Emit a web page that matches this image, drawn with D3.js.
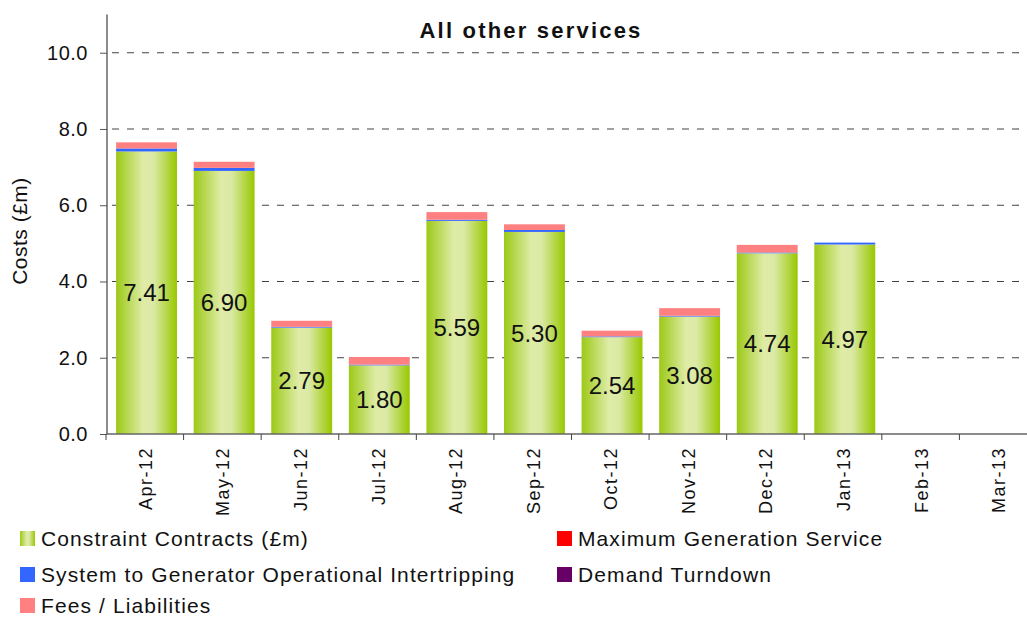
<!DOCTYPE html>
<html>
<head>
<meta charset="utf-8">
<script src="https://cdn.jsdelivr.net/npm/d3@7"></script>
<style>
  body { margin: 0; background: #fff; }
  svg { display: block; font-family: "Liberation Sans", Arial, sans-serif; }
</style>
</head>
<body>
<div id="chart"></div>
<script>
// data
const months = ["Apr-12","May-12","Jun-12","Jul-12","Aug-12","Sep-12","Oct-12","Nov-12","Dec-12","Jan-13","Feb-13","Mar-13"];
const constraint = [7.41, 6.90, 2.79, 1.80, 5.59, 5.30, 2.54, 3.08, 4.74, 4.97, 0, 0];
const maxGen     = [0, 0, 0, 0, 0, 0, 0, 0, 0, 0, 0, 0];
const intertrip  = [0.08, 0.08, 0.02, 0.02, 0.03, 0.05, 0.02, 0.02, 0.02, 0.05, 0, 0];
const demand     = [0, 0, 0, 0, 0, 0, 0, 0, 0, 0, 0, 0];
const fees       = [0.16, 0.16, 0.16, 0.20, 0.20, 0.15, 0.15, 0.20, 0.20, 0, 0, 0];
const yTicks = [0, 2, 4, 6, 8, 10];

const series = [
  { key: "constraint", name: "Constraint Contracts (£m)", values: constraint, color: "url(#greenGrad)" },
  { key: "maxGen", name: "Maximum Generation Service", values: maxGen, color: "#ff0000" },
  { key: "intertrip", name: "System to Generator Operational Intertripping", values: intertrip, color: "#3366ff" },
  { key: "demand", name: "Demand Turndown", values: demand, color: "#660066" },
  { key: "fees", name: "Fees / Liabilities", values: fees, color: "#ff8080" }
];

const W = 1027, H = 617;
const svg = d3.select("#chart").append("svg").attr("width", W).attr("height", H);

const defs = svg.append("defs");
const grad = defs.append("linearGradient").attr("id", "greenGrad")
  .attr("x1", "0%").attr("x2", "100%").attr("y1", "0%").attr("y2", "0%");
grad.append("stop").attr("offset", "0%").attr("stop-color", "#9cc916");
grad.append("stop").attr("offset", "45%").attr("stop-color", "#dfeca8");
grad.append("stop").attr("offset", "62%").attr("stop-color", "#dae9a4");
grad.append("stop").attr("offset", "100%").attr("stop-color", "#98c800");

const x = d3.scaleBand().domain(months).range([106, 1037]).padding(0);
const y = d3.scaleLinear().domain([0, 11]).range([434, 14.6]);
const bw = x.bandwidth();

// gridlines
svg.append("g").selectAll("line").data(yTicks.filter(d => d > 0)).enter().append("line")
  .attr("x1", 112).attr("x2", 1022)
  .attr("y1", d => y(d)).attr("y2", d => y(d))
  .attr("stroke", "#444").attr("stroke-width", 1.1).attr("stroke-dasharray", "7,8");

// stacked bars
const rows = months.map((m, i) => {
  const r = { month: m };
  series.forEach(s => r[s.key] = s.values[i]);
  return r;
});
const stack = d3.stack().keys(series.map(s => s.key));
const stacked = stack(rows);

const gBars = svg.append("g");
stacked.forEach((layer, li) => {
  gBars.selectAll(null).data(layer.filter(d => d[1] - d[0] > 0)).enter().append("rect")
    .attr("x", d => x(d.data.month) + bw * 0.13)
    .attr("width", bw * 0.785)
    .attr("y", d => y(d[1]))
    .attr("height", d => y(d[0]) - y(d[1]))
    .attr("fill", series[li].color);
});

// value labels in the green segment
svg.append("g").selectAll("text").data(rows.filter(d => d.constraint > 0)).enter().append("text")
  .attr("x", d => x(d.month) + bw * 0.13 + bw * 0.785 / 2)
  .attr("y", d => y(d.constraint / 2))
  .attr("dy", "0.36em")
  .attr("text-anchor", "middle")
  .attr("font-size", "24px").attr("fill", "#111")
  .text(d => d.constraint.toFixed(2));

// y axis
const yAxis = d3.axisLeft(y).tickValues(yTicks).tickFormat(d3.format(".1f")).tickSize(7).tickPadding(12);
const gy = svg.append("g").attr("transform", "translate(107,0)").call(yAxis);
gy.select(".domain").attr("d", `M0,${y(11)}V${y(0)}`).attr("stroke", "#666").attr("stroke-width", 1.5);
gy.selectAll(".tick line").attr("stroke", "#555");
gy.selectAll(".tick text").attr("font-size", "20px").attr("letter-spacing", "0.5px").attr("fill", "#111")
  .attr("font-family", "Liberation Sans, Arial, sans-serif");

// x axis
svg.append("line").attr("x1", 106).attr("x2", W).attr("y1", y(0)).attr("y2", y(0))
  .attr("stroke", "#666").attr("stroke-width", 1.5);
svg.append("g").selectAll("line").data(months).enter().append("line")
  .attr("x1", d => x(d)).attr("x2", d => x(d))
  .attr("y1", y(0)).attr("y2", y(0) + 6)
  .attr("stroke", "#444");
svg.append("g").selectAll("text").data(months).enter().append("text")
  .attr("transform", d => `translate(${x(d) + bw / 2 + 7},447) rotate(-90)`)
  .attr("text-anchor", "end")
  .attr("font-size", "18px").attr("letter-spacing", "1.5px").attr("fill", "#111")
  .text(d => d);

// y label
svg.append("text").attr("transform", "translate(27,231) rotate(-90)")
  .attr("text-anchor", "middle").attr("font-size", "21px").attr("letter-spacing", "0.5px").attr("fill", "#111")
  .text("Costs (£m)");

// title
svg.append("text").attr("x", 531).attr("y", 38).attr("text-anchor", "middle")
  .attr("font-size", "22px").attr("letter-spacing", "2.2px").attr("font-weight", "bold").attr("fill", "#111")
  .text("All other services");

// legend
const legendPos = [
  { key: "constraint", x: 20, y: 531 },
  { key: "maxGen", x: 557, y: 531 },
  { key: "intertrip", x: 20, y: 567 },
  { key: "demand", x: 557, y: 567 },
  { key: "fees", x: 20, y: 598 }
];
const gl = svg.append("g");
legendPos.forEach(p => {
  const s = series.find(d => d.key === p.key);
  gl.append("rect").attr("x", p.x).attr("y", p.y).attr("width", 15).attr("height", 15).attr("fill", s.color);
  gl.append("text").attr("x", p.x + 21).attr("y", p.y + 7.5).attr("dy", "0.34em")
    .attr("font-size", "21px").attr("letter-spacing", "1.1px").attr("fill", "#111").text(s.name);
});
</script>
</body>
</html>
